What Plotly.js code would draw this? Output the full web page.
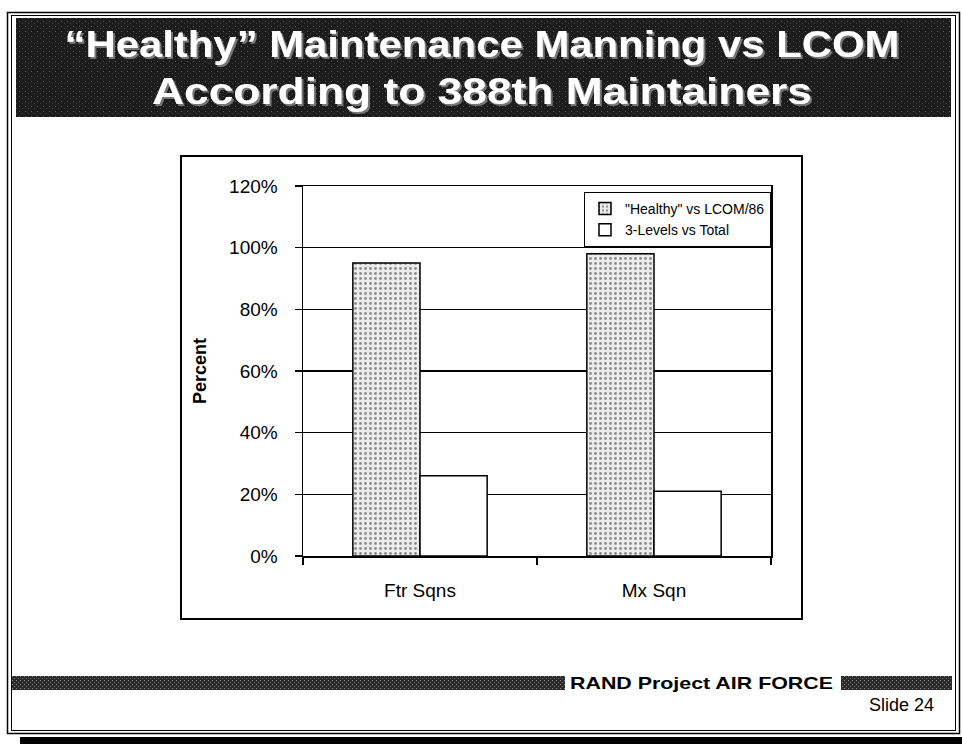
<!DOCTYPE html>
<html>
<head>
<meta charset="utf-8">
<script src="https://cdn.plot.ly/plotly-3.0.1.min.js"></script>
<style>
  html, body { margin: 0; padding: 0; background: #fff; }
  #page { position: relative; width: 962px; height: 744px; overflow: hidden; font-family: "Liberation Sans", Arial, sans-serif; }
  #deco { position: absolute; left: 0; top: 0; }
  #chart { position: absolute; left: 0; top: 0; width: 962px; height: 744px; }
</style>
</head>
<body>
<div id="page">
  <svg id="deco" width="962" height="744" xmlns="http://www.w3.org/2000/svg">
    <defs>
      <pattern id="speckle" width="6" height="5" patternUnits="userSpaceOnUse">
        <rect width="6" height="5" fill="#1c1c1c"/>
        <rect x="1" y="1" width="1" height="1" fill="#5a5a5a"/>
        <rect x="4" y="3" width="1" height="1" fill="#444"/>
      </pattern>
      <pattern id="speckle2" width="4" height="4" patternUnits="userSpaceOnUse">
        <rect width="4" height="4" fill="#2c2c2c"/>
        <rect x="0" y="0" width="1" height="1" fill="#8a8a8a"/>
        <rect x="2" y="2" width="1" height="1" fill="#6a6a6a"/>
      </pattern>
      <filter id="shadow" x="-5%" y="-20%" width="110%" height="150%">
        <feDropShadow dx="2" dy="2" stdDeviation="0.4" flood-color="#777" flood-opacity="1"/>
      </filter>
    </defs>
    <!-- slide frame -->
    <rect x="7.5" y="12.5" width="952" height="721" fill="none" stroke="#000" stroke-width="1.5"/>
    <rect x="11.5" y="15.5" width="944" height="715" fill="none" stroke="#000" stroke-width="1"/>
    <!-- header -->
    <rect x="16" y="18" width="935" height="99" fill="url(#speckle)"/>
    <g font-family="'Liberation Sans', Arial, sans-serif" font-weight="bold" font-size="37" text-anchor="middle" fill="#ffffff" filter="url(#shadow)">
      <text x="482" y="57" textLength="835" lengthAdjust="spacingAndGlyphs">“Healthy” Maintenance Manning vs LCOM</text>
      <text x="482" y="104" textLength="660" lengthAdjust="spacingAndGlyphs">According to 388th Maintainers</text>
    </g>
    <!-- chart box -->
    <rect x="181" y="156" width="621" height="463" fill="#fff" stroke="#000" stroke-width="2"/>
    <!-- footer -->
    <rect x="12" y="676" width="553" height="14" fill="url(#speckle2)"/>
    <text x="570" y="689" font-family="'Liberation Sans', Arial, sans-serif" font-weight="bold" font-size="17" fill="#000" textLength="263" lengthAdjust="spacingAndGlyphs">RAND Project AIR FORCE</text>
    <rect x="841" y="676" width="111" height="14" fill="url(#speckle2)"/>
    <text x="934" y="711" font-family="'Liberation Sans', Arial, sans-serif" font-size="18" fill="#000" text-anchor="end">Slide 24</text>
    <!-- bottom band -->
    <rect x="20" y="737" width="942" height="7" fill="#000"/>
  </svg>
  <div id="chart"></div>
</div>
<script>
// ---- data ----
const categories = ['Ftr Sqns', 'Mx Sqn'];
const healthyVsLcom = [0.95, 0.98];
const threeLevelsVsTotal = [0.26, 0.21];
const seriesNames = ['"Healthy" vs LCOM/86', '3-Levels vs Total'];
const yTickVals = [0, 0.2, 0.4, 0.6, 0.8, 1.0, 1.2];
const yTickText = ['0%', '20%', '40%', '60%', '80%', '100%', '120%'];
const yAxisTitle = 'Percent';

const FONT = "'Liberation Sans', Arial, sans-serif";

const traces = [
  {
    type: 'bar',
    name: seriesNames[0],
    x: categories,
    y: healthyVsLcom,
    marker: {
      color: '#e6e6e6',
      pattern: { shape: '.', fgcolor: '#8c8c8c', bgcolor: '#ececec', size: 5, solidity: 0.25 },
      line: { color: '#000', width: 1.5 }
    },
    hoverinfo: 'skip'
  },
  {
    type: 'bar',
    name: seriesNames[1],
    x: categories,
    y: threeLevelsVsTotal,
    marker: { color: '#ffffff', line: { color: '#000', width: 1.5 } },
    hoverinfo: 'skip'
  }
];

const layout = {
  width: 962,
  height: 744,
  margin: { l: 303, r: 191, t: 186, b: 188, pad: 0 },
  paper_bgcolor: 'rgba(0,0,0,0)',
  plot_bgcolor: '#ffffff',
  barmode: 'group',
  bargap: 0.426,
  bargroupgap: 0,
  font: { family: FONT, color: '#000' },
  showlegend: true,
  legend: {
    x: 1, xanchor: 'right', y: 0.984, yanchor: 'top',
    bgcolor: '#fff', bordercolor: '#000', borderwidth: 1,
    font: { family: FONT, size: 14, color: '#000' },
    itemwidth: 30, tracegroupgap: 0
  },
  xaxis: {
    type: 'category',
    showline: true, linecolor: '#000', linewidth: 1.5, mirror: true,
    ticks: 'outside', tickson: 'boundaries', ticklen: 7, tickcolor: '#000', tickwidth: 1.5,
    tickfont: { family: FONT, size: 19, color: '#000' },
    ticklabelstandoff: 17,
    showgrid: false, zeroline: false,
    automargin: false
  },
  yaxis: {
    range: [0, 1.2],
    tickvals: yTickVals, ticktext: yTickText,
    showline: true, linecolor: '#000', linewidth: 1.5, mirror: true,
    ticks: 'outside', ticklen: 7, tickcolor: '#000', tickwidth: 1.5,
    tickfont: { family: FONT, size: 19, color: '#000' },
    ticklabelstandoff: 13,
    showgrid: true, gridcolor: '#000', gridwidth: 1.2,
    zeroline: false,
    title: { text: '<b>' + yAxisTitle + '</b>', font: { family: FONT, size: 18, color: '#000' }, standoff: 18 },
    automargin: false
  }
};

Plotly.newPlot('chart', traces, layout, { staticPlot: true, displayModeBar: false });
</script>
</body>
</html>
